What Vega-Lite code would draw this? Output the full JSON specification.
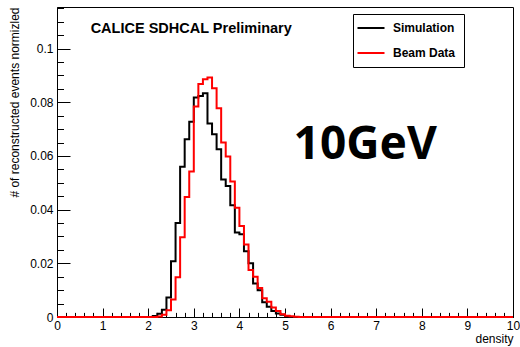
{
  "$schema": "https://vega.github.io/schema/vega-lite/v6.json",
  "width": 456,
  "height": 310,
  "autosize": "none",
  "padding": {"left": 57, "top": 7, "right": 7, "bottom": 30},
  "background": "white",
  "config": {
    "view": {"stroke": "black", "strokeWidth": 1},
    "font": "Liberation Sans",
    "axis": {"labelColor": "black", "tickColor": "black", "domainColor": "black", "titleColor": "black", "grid": false, "labelFont": "Liberation Sans", "titleFont": "Liberation Sans"}
  },
  "datasets": {
    "hist": [
      {"series": "Simulation", "density": 0, "fraction": 0},
      {"series": "Simulation", "density": 2.1, "fraction": 0.0004},
      {"series": "Simulation", "density": 2.2, "fraction": 0.0012},
      {"series": "Simulation", "density": 2.3, "fraction": 0.0027},
      {"series": "Simulation", "density": 2.4, "fraction": 0.0073},
      {"series": "Simulation", "density": 2.5, "fraction": 0.0208},
      {"series": "Simulation", "density": 2.6, "fraction": 0.035},
      {"series": "Simulation", "density": 2.7, "fraction": 0.056},
      {"series": "Simulation", "density": 2.8, "fraction": 0.0662},
      {"series": "Simulation", "density": 2.9, "fraction": 0.0727},
      {"series": "Simulation", "density": 3.0, "fraction": 0.0818},
      {"series": "Simulation", "density": 3.1, "fraction": 0.0823},
      {"series": "Simulation", "density": 3.2, "fraction": 0.0834},
      {"series": "Simulation", "density": 3.3, "fraction": 0.0721},
      {"series": "Simulation", "density": 3.4, "fraction": 0.0681},
      {"series": "Simulation", "density": 3.5, "fraction": 0.0625},
      {"series": "Simulation", "density": 3.6, "fraction": 0.0512},
      {"series": "Simulation", "density": 3.7, "fraction": 0.0488},
      {"series": "Simulation", "density": 3.8, "fraction": 0.0416},
      {"series": "Simulation", "density": 3.9, "fraction": 0.0315},
      {"series": "Simulation", "density": 4.0, "fraction": 0.0308},
      {"series": "Simulation", "density": 4.1, "fraction": 0.0245},
      {"series": "Simulation", "density": 4.2, "fraction": 0.02},
      {"series": "Simulation", "density": 4.3, "fraction": 0.0125},
      {"series": "Simulation", "density": 4.4, "fraction": 0.01},
      {"series": "Simulation", "density": 4.5, "fraction": 0.0055},
      {"series": "Simulation", "density": 4.6, "fraction": 0.0038},
      {"series": "Simulation", "density": 4.7, "fraction": 0.0022},
      {"series": "Simulation", "density": 4.8, "fraction": 0.0013},
      {"series": "Simulation", "density": 4.9, "fraction": 0.0008},
      {"series": "Simulation", "density": 5.0, "fraction": 0.0003},
      {"series": "Simulation", "density": 5.1, "fraction": 0},
      {"series": "Simulation", "density": 10, "fraction": 0},
      {"series": "Beam Data", "density": 0, "fraction": 0},
      {"series": "Beam Data", "density": 2.2, "fraction": 0.0002},
      {"series": "Beam Data", "density": 2.3, "fraction": 0.0008},
      {"series": "Beam Data", "density": 2.4, "fraction": 0.0025},
      {"series": "Beam Data", "density": 2.5, "fraction": 0.0065},
      {"series": "Beam Data", "density": 2.6, "fraction": 0.0148},
      {"series": "Beam Data", "density": 2.7, "fraction": 0.0297},
      {"series": "Beam Data", "density": 2.8, "fraction": 0.0447},
      {"series": "Beam Data", "density": 2.9, "fraction": 0.0542},
      {"series": "Beam Data", "density": 3.0, "fraction": 0.0784},
      {"series": "Beam Data", "density": 3.1, "fraction": 0.0868},
      {"series": "Beam Data", "density": 3.2, "fraction": 0.0886},
      {"series": "Beam Data", "density": 3.3, "fraction": 0.0892},
      {"series": "Beam Data", "density": 3.4, "fraction": 0.0852},
      {"series": "Beam Data", "density": 3.5, "fraction": 0.0778},
      {"series": "Beam Data", "density": 3.6, "fraction": 0.065},
      {"series": "Beam Data", "density": 3.7, "fraction": 0.0598},
      {"series": "Beam Data", "density": 3.8, "fraction": 0.0505},
      {"series": "Beam Data", "density": 3.9, "fraction": 0.0407},
      {"series": "Beam Data", "density": 4.0, "fraction": 0.0339},
      {"series": "Beam Data", "density": 4.1, "fraction": 0.027},
      {"series": "Beam Data", "density": 4.2, "fraction": 0.0175},
      {"series": "Beam Data", "density": 4.3, "fraction": 0.015},
      {"series": "Beam Data", "density": 4.4, "fraction": 0.0108},
      {"series": "Beam Data", "density": 4.5, "fraction": 0.007},
      {"series": "Beam Data", "density": 4.6, "fraction": 0.0057},
      {"series": "Beam Data", "density": 4.7, "fraction": 0.0035},
      {"series": "Beam Data", "density": 4.8, "fraction": 0.0022},
      {"series": "Beam Data", "density": 4.9, "fraction": 0.001},
      {"series": "Beam Data", "density": 5.0, "fraction": 0.0005},
      {"series": "Beam Data", "density": 5.1, "fraction": 0.0003},
      {"series": "Beam Data", "density": 5.2, "fraction": 0.0001},
      {"series": "Beam Data", "density": 5.3, "fraction": 0},
      {"series": "Beam Data", "density": 10, "fraction": 0}
    ]
  },
  "resolve": {"axis": {"x": "independent", "y": "independent"}},
  "layer": [
    {
      "data": {"name": "hist"},
      "mark": {"type": "line", "interpolate": "step-after", "strokeWidth": 2},
      "encoding": {
        "x": {
          "field": "density", "type": "quantitative",
          "scale": {"domain": [0, 10], "nice": false, "zero": false},
          "axis": {
            "orient": "bottom", "values": [0, 1, 2, 3, 4, 5, 6, 7, 8, 9, 10],
            "tickSize": -9, "labelPadding": 12, "labelFontSize": 12, "labelFlush": false, "labelOverlap": false,
            "title": "density", "titleFontSize": 12, "titleFontWeight": "normal",
            "titleAnchor": "end", "titleAlign": "right", "titleX": 456, "titleY": 25, "titleBaseline": "alphabetic"
          }
        },
        "y": {
          "field": "fraction", "type": "quantitative",
          "scale": {"domain": [0, 0.1155], "nice": false},
          "axis": {
            "orient": "left", "values": [0, 0.02, 0.04, 0.06, 0.08, 0.1], "format": ".2~f",
            "tickSize": -13, "labelPadding": 17, "labelFontSize": 12, "labelFlush": false, "labelOverlap": false,
            "title": "# of reconstructed events normizled", "titleFontSize": 12, "titleFontWeight": "normal",
            "titleAnchor": "end", "titleAngle": -90, "titleAlign": "right", "titleBaseline": "middle", "titleX": -43, "titleY": 0
          }
        },
        "color": {
          "field": "series", "type": "nominal",
          "scale": {"domain": ["Simulation", "Beam Data"], "range": ["#000000", "#ff0000"]},
          "legend": {
            "orient": "none", "legendX": 296, "legendY": 7, "title": null,
            "symbolType": "M-3,0H3", "symbolSize": 81, "symbolStrokeWidth": 2, "symbolOffset": 4,
            "labelFont": "Liberation Sans", "labelFontWeight": "bold", "labelFontSize": 12, "labelColor": "black",
            "labelOffset": 16, "padding": 8, "rowPadding": 13,
            "strokeColor": "black", "fillColor": "white",
            "labelExpr": "datum.label + '             '"
          }
        }
      }
    },
    {
      "data": {"values": [{"label": "10GeV"}]},
      "mark": {"type": "text", "font": "Noto Sans", "fontWeight": "bold", "fontSize": 46, "align": "center", "baseline": "alphabetic", "color": "black"},
      "encoding": {
        "text": {"field": "label"},
        "x": {
          "datum": 6.76, "type": "quantitative",
          "scale": {"domain": [0, 10], "nice": false, "zero": false},
          "axis": {"orient": "bottom", "values": [0, 0.2, 0.4, 0.6, 0.8, 1, 1.2, 1.4, 1.6, 1.8, 2, 2.2, 2.4, 2.6, 2.8, 3, 3.2, 3.4, 3.6, 3.8, 4, 4.2, 4.4, 4.6, 4.8, 5, 5.2, 5.4, 5.6, 5.8, 6, 6.2, 6.4, 6.6, 6.8, 7, 7.2, 7.4, 7.6, 7.8, 8, 8.2, 8.4, 8.6, 8.8, 9, 9.2, 9.4, 9.6, 9.8, 10], "tickSize": -4.6, "labels": false, "domain": false, "title": null}
        },
        "y": {
          "datum": 0.0589, "type": "quantitative",
          "scale": {"domain": [0, 0.1155], "nice": false},
          "axis": {"orient": "left", "values": [0, 0.005, 0.01, 0.015, 0.02, 0.025, 0.03, 0.035, 0.04, 0.045, 0.05, 0.055, 0.06, 0.065, 0.07, 0.075, 0.08, 0.085, 0.09, 0.095, 0.1, 0.105, 0.11, 0.115], "tickSize": -6.5, "labels": false, "domain": false, "title": null}
        }
      }
    },
    {
      "data": {"values": [{"label": "CALICE SDHCAL Preliminary"}]},
      "mark": {"type": "text", "font": "Liberation Sans", "fontWeight": "bold", "fontSize": 14.5, "align": "left", "baseline": "alphabetic", "color": "black"},
      "encoding": {
        "text": {"field": "label"},
        "x": {"datum": 0.738, "type": "quantitative", "scale": {"domain": [0, 10], "nice": false, "zero": false}, "axis": null},
        "y": {"datum": 0.1057, "type": "quantitative", "scale": {"domain": [0, 0.1155], "nice": false}, "axis": null}
      }
    }
  ]
}
